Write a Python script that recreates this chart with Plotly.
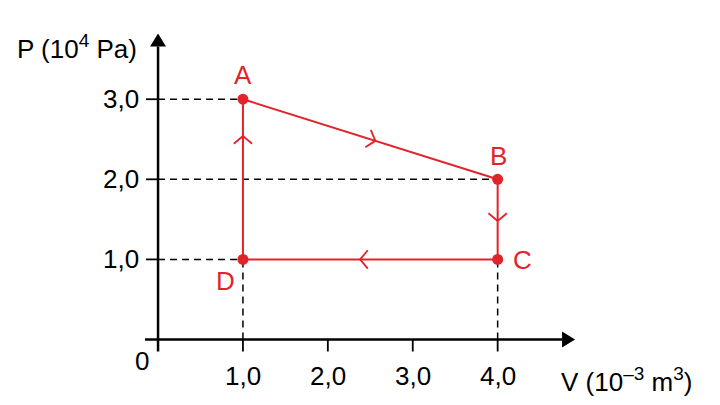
import numpy as np
import plotly.graph_objects as go

# P-V cycle A -> B -> C -> D -> A
states = ['A', 'B', 'C', 'D']
volume = [1.0, 4.0, 4.0, 1.0]      # 10^-3 m3
pressure = [3.0, 2.0, 1.0, 1.0]    # 10^4 Pa
v_ticks = [1.0, 2.0, 3.0, 4.0]
v_tick_text = ['1,0', '2,0', '3,0', '4,0']
p_ticks = [1.0, 2.0, 3.0]
p_tick_text = ['1,0', '2,0', '3,0']
chevron_at = [0.52, 0.52, 0.54, 0.77]   # fraction along each step

RED = 'rgb(226,35,42)'
FONT = 'Liberation Sans, Arial, sans-serif'
# the page puts an 8px body margin round the figure
W, H = 712, 397
M = dict(l=22, r=10, t=2, b=10)
XR = [-1.508, 6.501]
YR = [-0.693, 4.114]
sx = (W - M['l'] - M['r']) / (XR[1] - XR[0])   # px per data unit
sy = (H - M['t'] - M['b']) / (YR[1] - YR[0])


def px2dx(p):
    return p / sx


def px2dy(p):
    return p / sy


def sup(t):
    return '<sup><span style="font-size:19px">{}</span></sup>'.format(t)


fig = go.Figure()
shapes = []
annotations = []

# axes
ax_line = dict(color='black', width=2.5)
x_end = px2dx(404)
y_end = px2dy(293)
shapes.append(dict(type='line', xref='x', yref='y', x0=-px2dx(13), y0=0,
                   x1=x_end, y1=0, line=ax_line))
shapes.append(dict(type='line', xref='x', yref='y', x0=0, y0=-px2dy(12),
                   x1=0, y1=y_end, line=ax_line))
hl, hw = 13, 8
tx, ty = x_end + px2dx(hl), y_end + px2dy(hl)
shapes.append(dict(type='path', xref='x', yref='y', fillcolor='black', line=dict(width=0),
                   path='M {},{} L {},{} L {},{} Z'.format(
                       tx, 0, x_end, px2dy(hw), x_end, -px2dy(hw))))
shapes.append(dict(type='path', xref='x', yref='y', fillcolor='black', line=dict(width=0),
                   path='M {},{} L {},{} L {},{} Z'.format(
                       0, ty, -px2dx(hw), y_end, px2dx(hw), y_end)))

# ticks
tick_line = dict(color='black', width=1.8)
for v in v_ticks:
    shapes.append(dict(type='line', xref='x', yref='y', x0=v, x1=v, y0=0, y1=-px2dy(12),
                       line=tick_line))
for p in p_ticks:
    shapes.append(dict(type='line', xref='x', yref='y', y0=p, y1=p, x0=0, x1=-px2dx(12),
                       line=tick_line))

# dashed guides
dash = dict(color='black', width=1.5, dash='7px,5px')
for i in [0, 1, 3]:
    shapes.append(dict(type='line', xref='x', yref='y', x0=0, x1=volume[i],
                       y0=pressure[i], y1=pressure[i], line=dash, layer='below'))
for i in [2, 3]:
    shapes.append(dict(type='line', xref='x', yref='y', x0=volume[i], x1=volume[i],
                       y0=0, y1=pressure[i], line=dash, layer='below'))

# cycle
cx = volume + [volume[0]]
cy = pressure + [pressure[0]]
fig.add_trace(go.Scatter(x=cx, y=cy, mode='lines', line=dict(color=RED, width=2),
                         hoverinfo='skip'))

# direction chevrons
chx, chy = [], []
L, ang = 12.0, np.radians(50)
for i in range(4):
    x1, y1, x2, y2 = cx[i], cy[i], cx[i + 1], cy[i + 1]
    f = chevron_at[i]
    tipx, tipy = x1 + f * (x2 - x1), y1 + f * (y2 - y1)
    d = np.array([(x2 - x1) * sx, (y2 - y1) * sy])
    d = d / np.linalg.norm(d)
    for s in (1, -1):
        c, sn = np.cos(s * ang), np.sin(s * ang)
        b = -np.array([c * d[0] - sn * d[1], sn * d[0] + c * d[1]])
        chx += [tipx + px2dx(L * b[0]), tipx, None]
        chy += [tipy + px2dy(L * b[1]), tipy, None]
fig.add_trace(go.Scatter(x=chx, y=chy, mode='lines', line=dict(color=RED, width=1.8),
                         hoverinfo='skip'))

fig.add_trace(go.Scatter(x=volume, y=pressure, mode='markers',
                         marker=dict(color=RED, size=11), hoverinfo='skip'))

# state labels
offsets = {'A': (0, 24), 'B': (1, 23), 'C': (25, -1), 'D': (-17, -22)}
for s, v, p in zip(states, volume, pressure):
    annotations.append(dict(x=v, y=p, xref='x', yref='y', text=s, showarrow=False,
                            xshift=offsets[s][0], yshift=offsets[s][1],
                            font=dict(size=26, color=RED, family=FONT)))

# tick labels
tfont = dict(size=26, color='black', family=FONT)
for v, t in zip(v_ticks, v_tick_text):
    annotations.append(dict(x=v, y=0, xref='x', yref='y', text=t, showarrow=False,
                            yshift=-36, font=tfont))
for p, t in zip(p_ticks, p_tick_text):
    annotations.append(dict(x=0, y=p, xref='x', yref='y', text=t, showarrow=False,
                            xanchor='right', xshift=-17, font=tfont))
annotations.append(dict(x=0, y=0, xref='x', yref='y', text='0', showarrow=False,
                        xshift=-16, yshift=-21, font=tfont))

# axis titles
annotations.append(dict(x=0, y=y_end, xref='x', yref='y',
                        text='P (10' + sup('4') + ' Pa)',
                        showarrow=False, xanchor='right', xshift=-19, yshift=0, font=tfont))
annotations.append(dict(x=x_end, y=0, xref='x', yref='y',
                        text='V (10' + sup('–3') + ' m' + sup('3') + ')',
                        showarrow=False, xanchor='left', xshift=-3, yshift=-40, font=tfont))

fig.update_layout(
    width=W, height=H, margin=M,
    paper_bgcolor='white', plot_bgcolor='white',
    showlegend=False,
    xaxis=dict(range=XR, visible=False, fixedrange=True),
    yaxis=dict(range=YR, visible=False, fixedrange=True),
    shapes=shapes, annotations=annotations,
)

fig.write_html("out.html")
